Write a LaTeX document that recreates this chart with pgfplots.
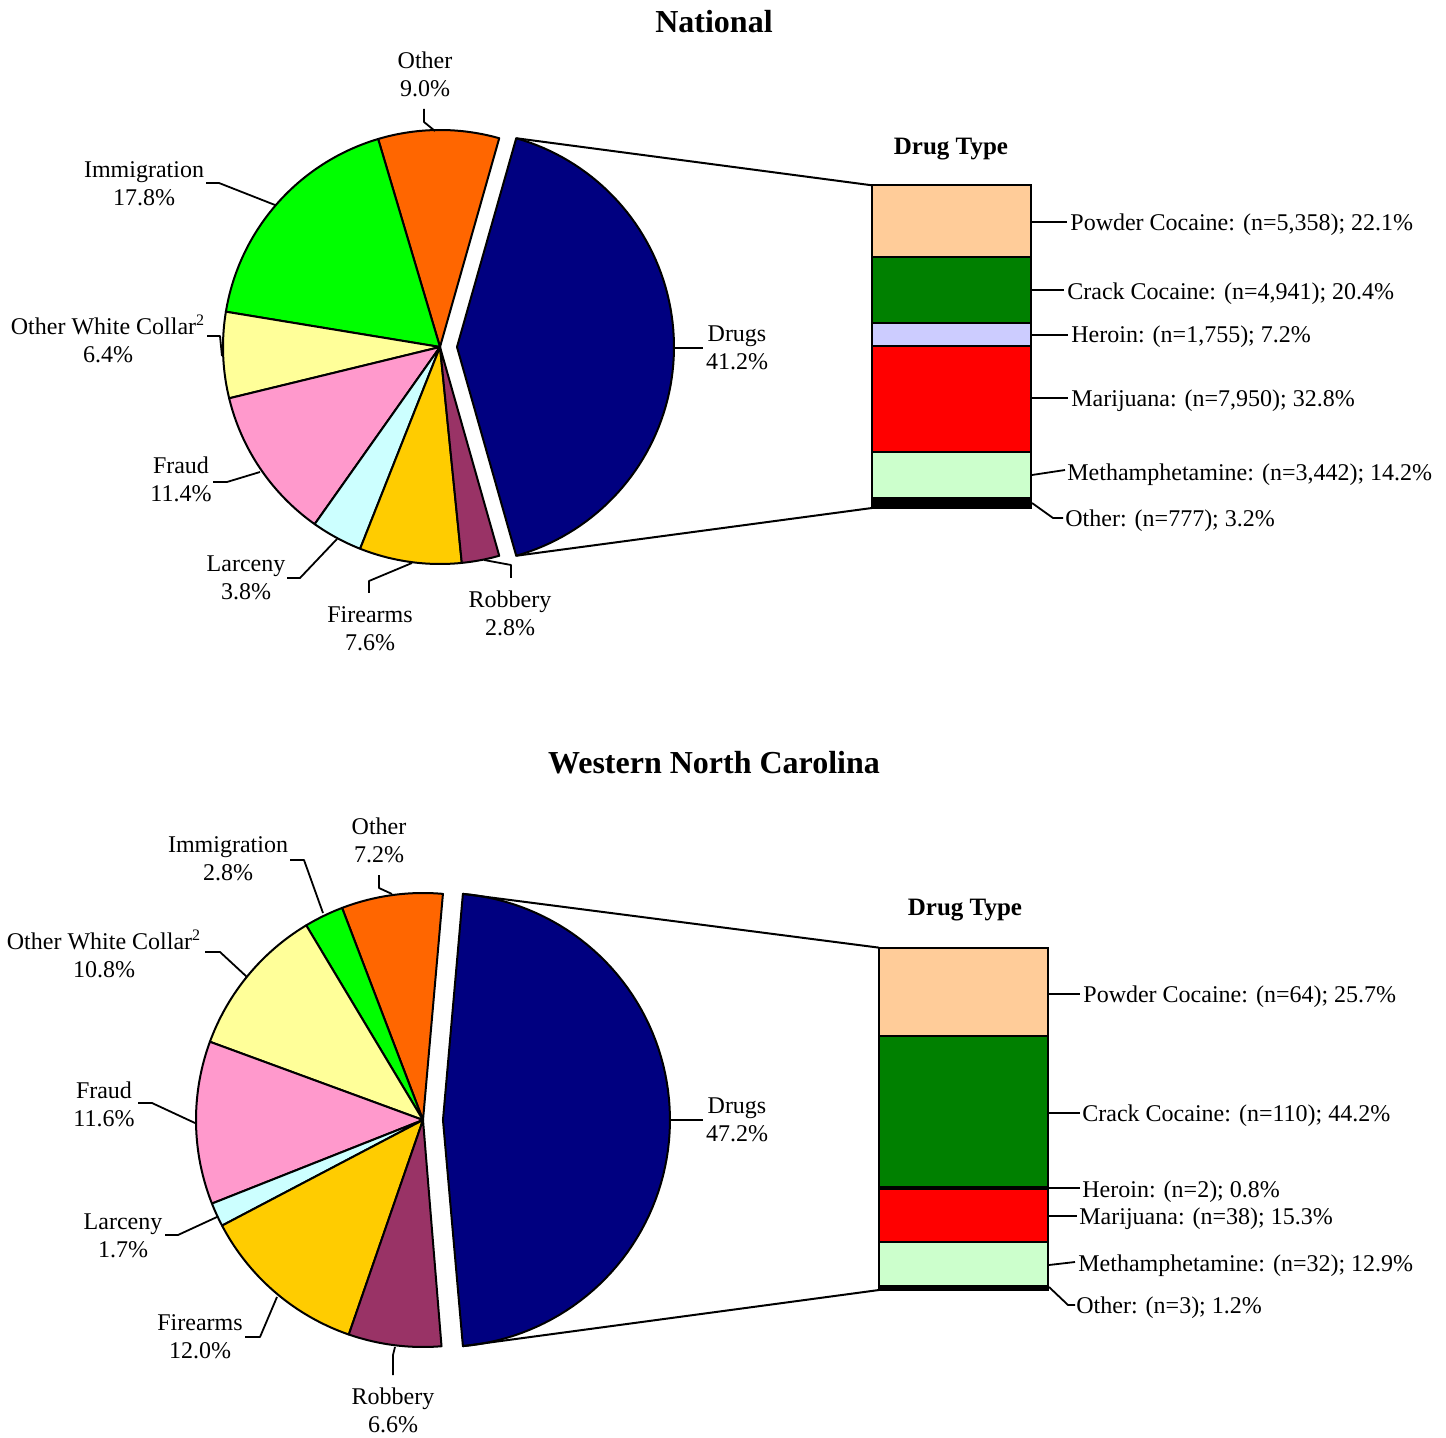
\documentclass[border=0pt]{standalone}
\usepackage{pgfplots}
\pgfplotsset{compat=1.18}
\usepackage{fontspec}
\setmainfont{Liberation Serif}

\definecolor{cDrugs}{HTML}{000080}
\definecolor{cOther}{HTML}{FF6600}
\definecolor{cImm}{HTML}{00FF00}
\definecolor{cOWC}{HTML}{FFFF99}
\definecolor{cFraud}{HTML}{FF99CC}
\definecolor{cLarc}{HTML}{CCFFFF}
\definecolor{cFire}{HTML}{FFCC00}
\definecolor{cRob}{HTML}{993366}
\definecolor{cPowder}{HTML}{FFCC99}
\definecolor{cCrack}{HTML}{008000}
\definecolor{cHeroin}{HTML}{CCCCFF}
\definecolor{cMarij}{HTML}{FF0000}
\definecolor{cMeth}{HTML}{CCFFCC}

\newcommand\lab{\fontsize{12}{14}\selectfont}

\pgfplotsset{
  pieaxis/.style={scale only axis, hide axis, clip=false, xmin=-1, xmax=1, ymin=-1, ymax=1, anchor=center},
  baraxis/.style={scale only axis, hide axis, clip=false, ybar stacked, xmin=-0.5, xmax=0.5, ymin=0, ymax=100, anchor=south west, enlargelimits=false},
  segment/.style={draw=black, line width=1pt},
}

\def\startang{0}
\def\cum{0}
% #1 percentage, #2 colour, #3 explode distance (radius units)
\newcommand{\pieslice}[3]{%
  \pgfmathsetmacro\sa{\startang+\cum*3.6}%
  \pgfmathsetmacro\ea{\startang+(\cum+#1)*3.6}%
  \pgfmathsetmacro\ma{(\sa+\ea)/2}%
  \pgfmathsetmacro\ex{#3*cos(\ma)}%
  \pgfmathsetmacro\ey{#3*sin(\ma)}%
  \edef\doslice{\noexpand\addplot[fill=#2, draw=black, line width=1pt, line join=round, domain=\sa:\ea, samples=80] ({\ex+cos(x)},{\ey+sin(x)}) -- (axis cs:\ex,\ey) -- cycle;}%
  \doslice
  \pgfmathparse{\cum+#1}\xdef\cum{\pgfmathresult}%
}

\begin{document}
\begin{tikzpicture}
\begin{scope}[x=0.5pt,y=-0.5pt]
  \useasboundingbox (0,0) rectangle (1446,1438);
\end{scope}

% ---------------- National pie ----------------
\def\startang{-74.16}\gdef\cum{0}
\begin{axis}[pieaxis, at={(220pt,-173.5pt)}, width=217pt, height=217pt]
  \pieslice{41.2}{cDrugs}{0.0783}
  \pieslice{9.0}{cOther}{0}
  \pieslice{17.8}{cImm}{0}
  \pieslice{6.4}{cOWC}{0}
  \pieslice{11.4}{cFraud}{0}
  \pieslice{3.8}{cLarc}{0}
  \pieslice{7.6}{cFire}{0}
  \pieslice{2.8}{cRob}{0}
  \coordinate (nT) at (axis cs:{0.0783+cos(74.16)},{sin(74.16)});
  \coordinate (nB) at (axis cs:{0.0783+cos(74.16)},{-sin(74.16)});
\end{axis}

% ---------------- National bar ----------------
\begin{axis}[baraxis, at={(436pt,-254pt)}, width=79.5pt, height=161.5pt, bar width=79.5pt]
  \addplot[segment, fill=black]   coordinates {(0,3.2)};
  \addplot[segment, fill=cMeth]   coordinates {(0,14.2)};
  \addplot[segment, fill=cMarij]  coordinates {(0,32.8)};
  \addplot[segment, fill=cHeroin] coordinates {(0,7.2)};
  \addplot[segment, fill=cCrack]  coordinates {(0,20.4)};
  \addplot[segment, fill=cPowder] coordinates {(0,22.1)};
  \coordinate (nbT) at (axis cs:-0.5,99.9);
  \coordinate (nbB) at (axis cs:-0.5,0);
\end{axis}

% ---------------- WNC pie ----------------
\def\startang{-84.96}\gdef\cum{0}
\begin{axis}[pieaxis, at={(211.5pt,-560pt)}, width=227pt, height=227pt]
  \pieslice{47.2}{cDrugs}{0.088}
  \pieslice{7.2}{cOther}{0}
  \pieslice{2.8}{cImm}{0}
  \pieslice{10.8}{cOWC}{0}
  \pieslice{11.6}{cFraud}{0}
  \pieslice{1.7}{cLarc}{0}
  \pieslice{12.0}{cFire}{0}
  \pieslice{6.6}{cRob}{0}
  \coordinate (wT) at (axis cs:{0.088+cos(84.96)},{sin(84.96)});
  \coordinate (wB) at (axis cs:{0.088+cos(84.96)},{-sin(84.96)});
\end{axis}

% ---------------- WNC bar ----------------
\begin{axis}[baraxis, at={(439.5pt,-645pt)}, width=84.5pt, height=171pt, bar width=84.5pt]
  \addplot[segment, fill=black]   coordinates {(0,1.2)};
  \addplot[segment, fill=cMeth]   coordinates {(0,12.9)};
  \addplot[segment, fill=cMarij]  coordinates {(0,15.3)};
  \addplot[segment, fill=cHeroin] coordinates {(0,0.8)};
  \addplot[segment, fill=cCrack]  coordinates {(0,44.2)};
  \addplot[segment, fill=cPowder] coordinates {(0,25.7)};
  \coordinate (wbT) at (axis cs:-0.5,100.1);
  \coordinate (wbB) at (axis cs:-0.5,0);
\end{axis}

\draw[line width=1pt] (nT) -- (nbT);
\draw[line width=1pt] (nB) -- (nbB);
\draw[line width=1pt] (wT) -- (wbT);
\draw[line width=1pt] (wB) -- (wbB);

% ---------------- annotations (pixel grid) ----------------
\begin{scope}[x=0.5pt,y=-0.5pt, every node/.style={inner sep=0pt, font=\lab},
  lead/.style={line width=0.9pt, line join=round},
  bl/.style={anchor=west, yshift=-1.3pt}]
  \node[font=\fontsize{16}{19}\selectfont\bfseries] at (714,22) {National};
  \node[font=\fontsize{12.5}{15}\selectfont\bfseries, yshift=-1.5pt] at (951,146) {Drug Type};
  \node[font=\fontsize{16}{19}\selectfont\bfseries] at (714,763) {Western North Carolina};
  \node[font=\fontsize{12.5}{15}\selectfont\bfseries, yshift=-1.5pt] at (965,907) {Drug Type};

  % National pie labels
  \node[align=center] at (425,74) {Other\\9.0\%};
  \draw[lead] (424,109) -- (424,122) -- (435,131);
  \node[align=center] at (144,184) {Immigration\\17.8\%};
  \draw[lead] (206,183) -- (219,183) -- (275,205);
  \node[align=center] at (108,339) {Other White Collar\textsuperscript{2}\\6.4\%};
  \draw[lead] (207,336) -- (220,336) -- (222,356);
  \node[align=center] at (181,479) {Fraud\\11.4\%};
  \draw[lead] (213,482) -- (227,482) -- (260,472);
  \node[align=center] at (246,578) {Larceny\\3.8\%};
  \draw[lead] (287,578) -- (300,578) -- (337,539);
  \node[align=center] at (370,629) {Firearms\\7.6\%};
  \draw[lead] (369,593) -- (369,581) -- (412,563);
  \node[align=center] at (510,613) {Robbery\\2.8\%};
  \draw[lead] (511,578) -- (511,565) -- (484,560);
  \node[align=center] at (737,348) {Drugs\\41.2\%};
  \draw[lead] (673,348) -- (703,348);

  % National bar labels
  \node[bl] at (1070,222) {Powder Cocaine: (n=5,358); 22.1\%};
  \draw[lead] (1032,222) -- (1067,222);
  \node[bl] at (1067,291) {Crack Cocaine: (n=4,941); 20.4\%};
  \draw[lead] (1032,290) -- (1064,290);
  \node[bl] at (1071,334) {Heroin: (n=1,755); 7.2\%};
  \draw[lead] (1032,335) -- (1068,335);
  \node[bl] at (1071,398) {Marijuana: (n=7,950); 32.8\%};
  \draw[lead] (1032,398) -- (1068,398);
  \node[bl] at (1067,472) {Methamphetamine: (n=3,442); 14.2\%};
  \draw[lead] (1032,475) -- (1065,470);
  \node[bl] at (1065,518) {Other: (n=777); 3.2\%};
  \draw[lead] (1032,503) -- (1053,518) -- (1063,518);

  % WNC pie labels
  \node[align=center] at (228,859) {Immigration\\2.8\%};
  \draw[lead] (290,860) -- (304,860) -- (323,913);
  \node[align=center] at (379,840) {Other\\7.2\%};
  \draw[lead] (379,875) -- (379,888) -- (392,894);
  \node[align=center] at (104,954) {Other White Collar\textsuperscript{2}\\10.8\%};
  \draw[lead] (205,952) -- (220,952) -- (247,977);
  \node[align=center] at (104,1104) {Fraud\\11.6\%};
  \draw[lead] (138,1103) -- (152,1103) -- (195,1123);
  \node[align=center] at (123,1236) {Larceny\\1.7\%};
  \draw[lead] (165,1235) -- (178,1235) -- (217,1217);
  \node[align=center] at (200,1337) {Firearms\\12.0\%};
  \draw[lead] (245,1337) -- (260,1337) -- (277,1297);
  \node[align=center] at (393,1410) {Robbery\\6.6\%};
  \draw[lead] (393,1375) -- (393,1355) -- (395,1347);
  \node[align=center] at (737,1120) {Drugs\\47.2\%};
  \draw[lead] (670,1120) -- (703,1120);

  % WNC bar labels
  \node[bl] at (1083,994) {Powder Cocaine: (n=64); 25.7\%};
  \draw[lead] (1049,994) -- (1080,994);
  \node[bl] at (1082,1113) {Crack Cocaine: (n=110); 44.2\%};
  \draw[lead] (1049,1113) -- (1080,1113);
  \node[bl] at (1082,1189) {Heroin: (n=2); 0.8\%};
  \draw[lead] (1049,1188) -- (1080,1188);
  \node[bl] at (1079,1216) {Marijuana: (n=38); 15.3\%};
  \draw[lead] (1049,1216) -- (1077,1216);
  \node[bl] at (1078,1263) {Methamphetamine: (n=32); 12.9\%};
  \draw[lead] (1049,1265) -- (1075,1262);
  \node[bl] at (1076,1305) {Other: (n=3); 1.2\%};
  \draw[lead] (1049,1287) -- (1068,1305) -- (1075,1305);
\end{scope}
\end{tikzpicture}
\end{document}
